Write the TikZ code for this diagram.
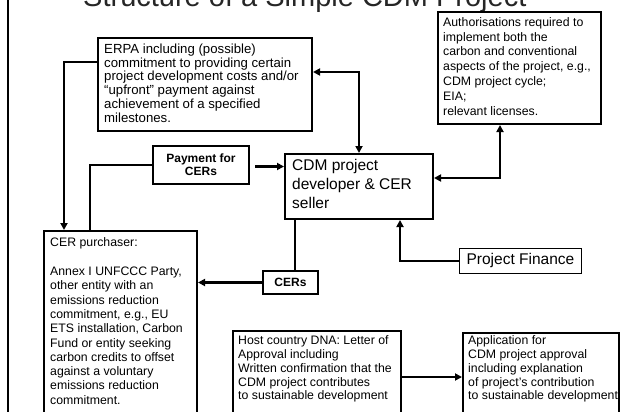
\documentclass[tikz,border=0pt]{standalone}
\usepackage{fontspec}
\setmainfont{Liberation Sans}
\usetikzlibrary{arrows.meta,calc}
\begin{document}
\begin{tikzpicture}[x=1pt,y=-1pt,
  box/.style={draw=black,line width=2pt,inner sep=0pt,anchor=north west},
  thinbox/.style={draw=black,line width=0.9pt,inner sep=0pt,anchor=north west},
  txt/.style={inner sep=0pt,anchor=north west,align=left},
  small/.style={font=\fontsize{12.3}{13.8}\selectfont},
  conn/.style={line width=2.5pt},
  connb/.style={line width=2pt},
  tip/.style={-{Triangle[length=7pt,width=7pt]}},
  tips/.style={{Triangle[length=7pt,width=7pt]}-{Triangle[length=7pt,width=7pt]}}
]
\clip (0,0) rectangle (621,412);
\fill[white] (0,0) rectangle (621,412);

% title (cut off at the top, as in the reference)
\node[inner sep=0pt,anchor=base west,font=\fontsize{29}{34}\selectfont,text=black!85] (title) at (83,6.5) {Structure of a Simple CDM Project};

% left frame line
\draw[line width=2pt] (7.5,0) -- (7.5,412);

% boxes
\node[box,minimum width=214pt,minimum height=93pt] (erpa) at (97,37) {};
\node[box,minimum width=163pt,minimum height=112pt] (auth) at (437,11) {};
\node[box,minimum width=96pt,minimum height=38pt,align=center,font=\bfseries\fontsize{12}{13}\selectfont] (pay) at (152,145) {Payment for\\CERs};
\node[box,minimum width=148pt,minimum height=65pt] (cdm) at (284,153) {};
\node[box,minimum width=153pt,minimum height=200pt] (cer) at (43,230) {};
\node[box,minimum width=55pt,minimum height=23pt,font=\bfseries\fontsize{12}{13}\selectfont] (cers) at (262,270) {CERs};
\node[thinbox,minimum width=122pt,minimum height=25pt,font=\fontsize{15.5}{18}\selectfont] (pf) at (459,248) {Project Finance};
\node[box,minimum width=168pt,minimum height=100pt] (dna) at (232,329.5) {};
\node[box,minimum width=156pt,minimum height=100pt] (app) at (462,331.5) {};

% texts
\node[txt,font=\fontsize{13.2}{13.7}\selectfont] (erpat) at (104,43.8) {ERPA including (possible)\\commitment to providing certain\\project development costs and/or\\“upfront” payment against\\achievement of a specified\\milestones.};
\node[txt,font=\fontsize{12.3}{14.9}\selectfont] (autht) at (443,17) {Authorisations required to\\implement both the\\carbon and conventional\\aspects of the project, e.g.,\\CDM project cycle;\\EIA;\\relevant licenses.};
\node[txt,font=\fontsize{15.5}{18.7}\selectfont] (cdmt) at (292,159.5) {CDM project\\developer \& CER\\seller};
\node[txt,font=\fontsize{12.3}{14.3}\selectfont] (cert) at (50,237.8) {CER purchaser:\\[14.3pt]Annex I UNFCCC Party,\\other entity with an\\emissions reduction\\commitment, e.g., EU\\ETS installation, Carbon\\Fund or entity seeking\\carbon credits to offset\\against a voluntary\\emissions reduction\\commitment.};
\node[txt,small] (dnat) at (238,335.5) {Host country DNA: Letter of\\Approval including\\Written confirmation that the\\CDM project contributes\\to sustainable development};
\node[txt,small] (appt) at (468,335.5) {Application for\\CDM project approval\\including explanation\\of project’s contribution\\to sustainable development};

% connectors
\draw[conn,tip] ($(erpa.north west)+(0,25)$) -| ($(cer.north west)+(21,0)$);
\draw[conn] (pay.west) -| ($(cer.north west)+(47,0)$);
\draw[conn,tip] ($(pay.east)+(5,1.5)$) -- ($(pay.east -| cdm.west)+(0,1.5)$);
\draw[connb,tips] ($(erpa.north east)+(0,35)$) -| (cdm.north);
\draw[connb,tips] ($(auth.south west)+(63,0)$) |- ($(cdm.north east)+(0,25)$);
\draw[conn] ($(cdm.south west)+(11,0)$) -- ($(cers.north west)+(33,0)$);
\draw[conn,tip] (cers.west) -- (cers.west -| cer.east);
\draw[conn,tip] (pf.west) -| ($(cdm.south west)+(116,0)$);
\draw[connb,tip] ($(dna.north east)+(0,47.5)$) -- ($(dna.north east -| app.west)+(0,47.5)$);
\end{tikzpicture}
\end{document}
